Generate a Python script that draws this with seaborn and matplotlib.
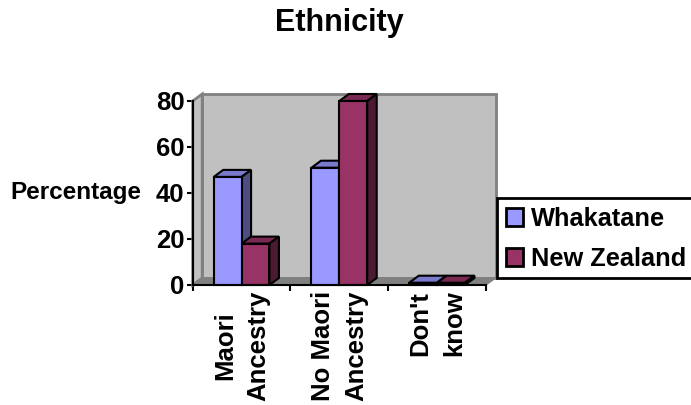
import pandas as pd
import seaborn as sns
import matplotlib.pyplot as plt
from matplotlib.patches import Polygon, Rectangle

categorias = ["Maori\nAncestry", "No Maori\nAncestry", "Don't\nknow"]
whakatane = [47, 51, 1]
new_zealand = [18, 80, 1]
series = ["Whakatane", "New Zealand"]
y_ticks = [0, 20, 40, 60, 80]

colores = ["#9999FF", "#993366"]
tapas = ["#7A7ACC", "#7A2952"]
lados = ["#4D4D80", "#4D1A33"]

sns.set_style("white")
plt.rcParams["font.family"] = ["Liberation Sans", "DejaVu Sans"]
plt.rcParams["font.weight"] = "bold"
plt.rcParams["axes.labelweight"] = "bold"
plt.rcParams["text.color"] = "black"
plt.rcParams["axes.labelcolor"] = "black"
plt.rcParams["xtick.color"] = "black"
plt.rcParams["ytick.color"] = "black"

df = pd.DataFrame({
    "categoria": categorias * 2,
    "valor": whakatane + new_zealand,
    "serie": [series[0]] * 3 + [series[1]] * 3,
})

W, H = 691, 405
fig = plt.figure(figsize=(W / 100, H / 100), dpi=100)
ax = fig.add_axes([192.7 / W, (H - 285) / H, 293.3 / W, 184 / H])

sns.barplot(data=df, x="categoria", y="valor", hue="serie", hue_order=series,
            palette=colores, width=0.57, gap=0, saturation=1, edgecolor="black",
            linewidth=1.5, ax=ax, errorbar=None)
ax.set_xlim(-0.5, 2.5)
ax.set_ylim(0, 80)
ax.patch.set_visible(False)

# profundidad del efecto 3D en unidades de datos
dx = 9.5 / (293.3 / 3)
dy = 7 / (184 / 80)

# pared del fondo, pared izquierda y suelo
x0, x1 = ax.get_xlim()
pared = Polygon([(x0 + dx, dy), (x1 + dx, dy), (x1 + dx, 80 + dy), (x0 + dx, 80 + dy)],
                closed=True, fc="#C0C0C0", ec="#808080", lw=2, clip_on=False, zorder=1)
izq = Polygon([(x0, 0), (x0 + dx, dy), (x0 + dx, 80 + dy), (x0, 80)],
              closed=True, fc="#C0C0C0", ec="#808080", lw=2, clip_on=False, zorder=1)
suelo = Polygon([(x0, 0), (x1, 0), (x1 + dx, dy), (x0 + dx, dy)],
                closed=True, fc="#808080", ec="#808080", lw=1, clip_on=False, zorder=1.5)
for p in (pared, izq, suelo):
    ax.add_patch(p)

# caras de arriba y de los lados sacadas de las barras de seaborn
barras = [(b, i) for i, cont in enumerate(ax.containers) for b in cont]
barras.sort(key=lambda t: t[0].get_x())
z = 2
for b, i in barras:
    l, r = b.get_x(), b.get_x() + b.get_width()
    t = b.get_height()
    tapa = Polygon([(l, t), (r, t), (r + dx, t + dy), (l + dx, t + dy)], closed=True,
                   fc=tapas[i], ec="black", lw=1.5, clip_on=False, zorder=z)
    lado = Polygon([(r, 0), (r + dx, dy), (r + dx, t + dy), (r, t)], closed=True,
                   fc=lados[i], ec="black", lw=1.5, clip_on=False, zorder=z)
    ax.add_patch(tapa)
    ax.add_patch(lado)
    b.set_zorder(z + 0.5)
    b.set_clip_on(False)
    z += 1

for s in ["top", "right"]:
    ax.spines[s].set_visible(False)
for s in ["left", "bottom"]:
    ax.spines[s].set_linewidth(1.5)
    ax.spines[s].set_color("black")
    ax.spines[s].set_zorder(20)

ax.set_yticks(y_ticks)
ax.tick_params(axis="y", left=True, length=4.5, width=1.5, labelsize=18.5, pad=1.5)
ax.set_xticks([-0.5, 0.5, 1.5, 2.5])
ax.set_xticklabels([])
ax.tick_params(axis="x", which="major", bottom=True, length=4, width=1.5)
ax.set_xticks([0, 1, 2], minor=True)
ax.set_xticklabels(categorias, minor=True, rotation=90, ha="center", va="top",
                   multialignment="center", linespacing=1.5, fontsize=18.5)
ax.tick_params(axis="x", which="minor", bottom=False, pad=2)

ax.set_xlabel("")
ax.set_ylabel("Percentage", rotation=0, ha="center", va="center", fontsize=17.5)
ax.yaxis.set_label_coords(-0.4, 0.5)

fig.text(339.5 / W, 1 - 23 / H, "Ethnicity", ha="center", va="center", fontsize=22, fontweight="bold")

ax.get_legend().remove()

# el marco de la leyenda se sale por la derecha de la imagen
marco = Rectangle((497 / W, 1 - 278 / H), 210 / W, 80 / H, transform=fig.transFigure,
                  fc="white", ec="black", lw=2, zorder=30)
fig.add_artist(marco)
leg = fig.legend([c[0] for c in ax.containers], series, loc="center left",
                 bbox_to_anchor=(506 / W, 1 - 239 / H), borderaxespad=0, borderpad=0,
                 fontsize=18.3, frameon=False,
                 handlelength=0.68, handleheight=0.68, handletextpad=0.3, labelspacing=0.62)
leg.set_zorder(31)
for h in leg.legend_handles:
    h.set_linewidth(2)

fig.savefig("out.png", dpi=100)
